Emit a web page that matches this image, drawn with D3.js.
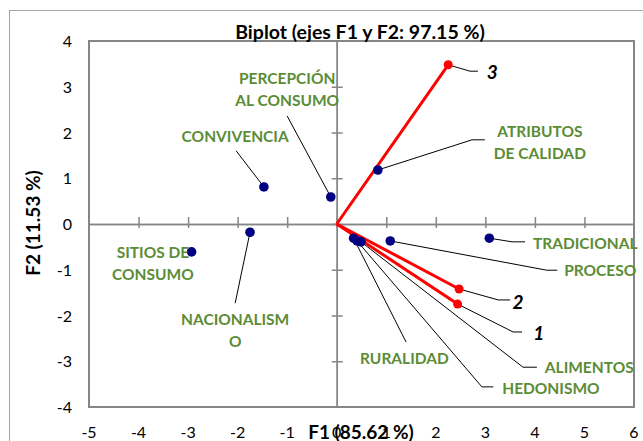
<!DOCTYPE html>
<html>
<head>
<meta charset="utf-8">
<script src="https://cdn.jsdelivr.net/npm/d3@7"></script>
<style>
  body { margin: 0; background: #fff; }
  svg text { font-family: Lato, "Open Sans", sans-serif; }
</style>
</head>
<body>
<div id="chart"></div>
<script>
// observations (blue) and variables (red vectors)
var obsNames = ['PERCEPCIÓN AL CONSUMO', 'CONVIVENCIA', 'ATRIBUTOS DE CALIDAD', 'TRADICIONAL', 'PROCESO',
                'ALIMENTOS', 'HEDONISMO', 'RURALIDAD', 'SITIOS DE CONSUMO', 'NACIONALISMO'];
var obsX = [-0.12, -1.47, 0.83, 3.08, 1.08, 0.49, 0.41, 0.34, -2.93, -1.75];
var obsY = [0.59, 0.81, 1.18, -0.31, -0.37, -0.39, -0.37, -0.31, -0.61, -0.18];

var varNames = ['1', '2', '3'];
var varX = [2.44, 2.47, 2.25];
var varY = [-1.75, -1.42, 3.48];

var xTicks = [-5, -4, -3, -2, -1, 0, 1, 2, 3, 4, 5, 6];
var yTicks = [-4, -3, -2, -1, 0, 1, 2, 3, 4];

// label layout (data units): text anchor point, leader elbow and end
var obsLabels = [
    {lines: ['PERCEPCIÓN', 'AL CONSUMO'], tx: -1.00, ty: 3.19, anchor: 'middle', end: [-1.00, 2.36]},
    {lines: ['CONVIVENCIA'], tx: -2.05, ty: 1.92, anchor: 'middle', end: [-2.03, 1.60]},
    {lines: ['ATRIBUTOS', 'DE CALIDAD'], tx: 4.10, ty: 2.03, anchor: 'middle', elbow: [2.73, 1.84], end: [2.99, 1.84]},
    {lines: ['TRADICIONAL'], tx: 3.96, ty: -0.42, anchor: 'start', elbow: [3.54, -0.39], end: [3.80, -0.39]},
    {lines: ['PROCESO'], tx: 4.59, ty: -1.01, anchor: 'start', elbow: [4.24, -1.01], end: [4.45, -1.01]},
    {lines: ['ALIMENTOS'], tx: 4.20, ty: -3.13, anchor: 'start', elbow: [3.76, -3.13], end: [4.04, -3.13]},
    {lines: ['HEDONISMO'], tx: 3.34, ty: -3.58, anchor: 'start', elbow: [2.93, -3.56], end: [3.16, -3.56]},
    {lines: ['RURALIDAD'], tx: 0.47, ty: -2.93, anchor: 'start', end: [1.40, -2.58]},
    {lines: ['SITIOS DE', 'CONSUMO'], tx: -3.71, ty: -0.61, anchor: 'middle'},
    {lines: ['NACIONALISM', 'O'], tx: -2.05, ty: -2.08, anchor: 'middle', end: [-2.05, -1.73]}
];
var varLabels = [
    {tx: 4.08, ty: -2.38, elbow: [3.56, -2.36], end: [3.74, -2.36]},
    {tx: 3.66, ty: -1.70, elbow: [3.26, -1.66], end: [3.50, -1.66]},
    {tx: 3.14, ty: 3.32, elbow: [2.69, 3.34], end: [2.85, 3.34]}
];

var W = 643, H = 441;
var margin = {left: 89, right: 9, top: 41, bottom: 34};
var green = '#5b8c36', gray = '#868686';

var svg = d3.select('#chart').append('svg')
    .attr('width', W)
    .attr('height', H);

// outer chart frame
svg.append('rect')
    .attr('x', 9.5).attr('y', 10.5)
    .attr('width', 640).attr('height', 440)
    .attr('fill', 'none').attr('stroke', '#a6a6a6').attr('stroke-width', 1);

var x = d3.scaleLinear().domain([-5, 6]).range([margin.left, W - margin.right]);
var y = d3.scaleLinear().domain([-4, 4]).range([H - margin.bottom, margin.top]);

// plot frame
svg.append('rect')
    .attr('x', x(-5)).attr('y', y(4))
    .attr('width', x(6) - x(-5)).attr('height', y(-4) - y(4))
    .attr('fill', 'none').attr('stroke', gray).attr('stroke-width', 2);

// axes through the origin, cross ticks
function styleAxis(g) {
    g.select('.domain').attr('stroke', gray).attr('stroke-width', 1.5);
    g.selectAll('.tick line').attr('stroke', gray).attr('stroke-width', 1.5);
    g.selectAll('.tick text').remove();
}
svg.append('g').attr('transform', 'translate(0,' + y(0) + ')')
    .call(d3.axisBottom(x).tickValues(xTicks.slice(1, -1)).tickSize(4).tickSizeOuter(0)).call(styleAxis);
svg.append('g').attr('transform', 'translate(0,' + y(0) + ')')
    .call(d3.axisTop(x).tickValues(xTicks.slice(1, -1)).tickSize(7).tickSizeOuter(0)).call(styleAxis);
svg.append('g').attr('transform', 'translate(' + x(0) + ',0)')
    .call(d3.axisLeft(y).tickValues(yTicks.slice(1, -1)).tickSize(5).tickSizeOuter(0)).call(styleAxis);
svg.append('g').attr('transform', 'translate(' + x(0) + ',0)')
    .call(d3.axisRight(y).tickValues(yTicks.slice(1, -1)).tickSize(6).tickSizeOuter(0)).call(styleAxis);

// tick labels sit outside the plot (low position)
svg.append('g').selectAll('text').data(xTicks).enter().append('text')
    .attr('x', function(d) { return x(d); })
    .attr('y', y(-4) + 31)
    .attr('text-anchor', 'middle')
    .attr('font-size', 16)
    .text(function(d) { return d; });
svg.append('g').selectAll('text').data(yTicks).enter().append('text')
    .attr('x', margin.left - 17)
    .attr('y', function(d) { return y(d) + 6; })
    .attr('text-anchor', 'end')
    .attr('font-size', 16)
    .text(function(d) { return d; });

// titles
svg.append('text')
    .attr('x', 360).attr('y', 39)
    .attr('text-anchor', 'middle')
    .attr('font-size', 19.5).attr('font-weight', 'bold')
    .text('Biplot (ejes F1 y F2: 97.15 %)');
svg.append('text')
    .attr('x', 361).attr('y', y(-4) + 32)
    .attr('text-anchor', 'middle')
    .attr('font-size', 19).attr('font-weight', 'bold')
    .text('F1 (85.62 %)');
svg.append('text')
    .attr('transform', 'translate(40,' + (y(0) - 1) + ') rotate(-90)')
    .attr('text-anchor', 'middle')
    .attr('font-size', 19).attr('font-weight', 'bold')
    .text('F2 (11.53 %)');

// leader lines
function leader(l, px, py) {
    if (!l.end) return;
    var pts = [[px, py]];
    if (l.elbow) pts.push([x(l.elbow[0]), y(l.elbow[1])]);
    pts.push([x(l.end[0]), y(l.end[1])]);
    svg.append('path')
        .attr('d', d3.line()(pts))
        .attr('fill', 'none').attr('stroke', '#000').attr('stroke-width', 1);
}
obsLabels.forEach(function(l, i) { leader(l, x(obsX[i]), y(obsY[i])); });
varLabels.forEach(function(l, i) { leader(l, x(varX[i]), y(varY[i])); });

// variable vectors
svg.append('g').selectAll('line').data(varNames).enter().append('line')
    .attr('x1', x(0)).attr('y1', y(0))
    .attr('x2', function(d, i) { return x(varX[i]); })
    .attr('y2', function(d, i) { return y(varY[i]); })
    .attr('stroke', '#ff0000').attr('stroke-width', 3);
svg.append('g').selectAll('circle').data(varNames).enter().append('circle')
    .attr('cx', function(d, i) { return x(varX[i]); })
    .attr('cy', function(d, i) { return y(varY[i]); })
    .attr('r', 4.5)
    .attr('fill', '#ff0000');

// observations
svg.append('g').selectAll('circle').data(obsNames).enter().append('circle')
    .attr('cx', function(d, i) { return x(obsX[i]); })
    .attr('cy', function(d, i) { return y(obsY[i]); })
    .attr('r', 4.8)
    .attr('fill', '#000080');

// labels
obsLabels.forEach(function(l) {
    var t = svg.append('text')
        .attr('x', x(l.tx)).attr('y', y(l.ty) + 6)
        .attr('text-anchor', l.anchor)
        .attr('font-size', 15.5).attr('font-weight', 'bold')
        .attr('fill', green);
    l.lines.forEach(function(s, k) {
        t.append('tspan').attr('x', x(l.tx)).attr('dy', k ? 22 : 0).text(s);
    });
});
varLabels.forEach(function(l, i) {
    svg.append('text')
        .attr('x', x(l.tx)).attr('y', y(l.ty) + 7)
        .attr('text-anchor', 'middle')
        .attr('font-size', 19).attr('font-weight', 'bold').attr('font-style', 'italic')
        .text(varNames[i]);
});
</script>
</body>
</html>
